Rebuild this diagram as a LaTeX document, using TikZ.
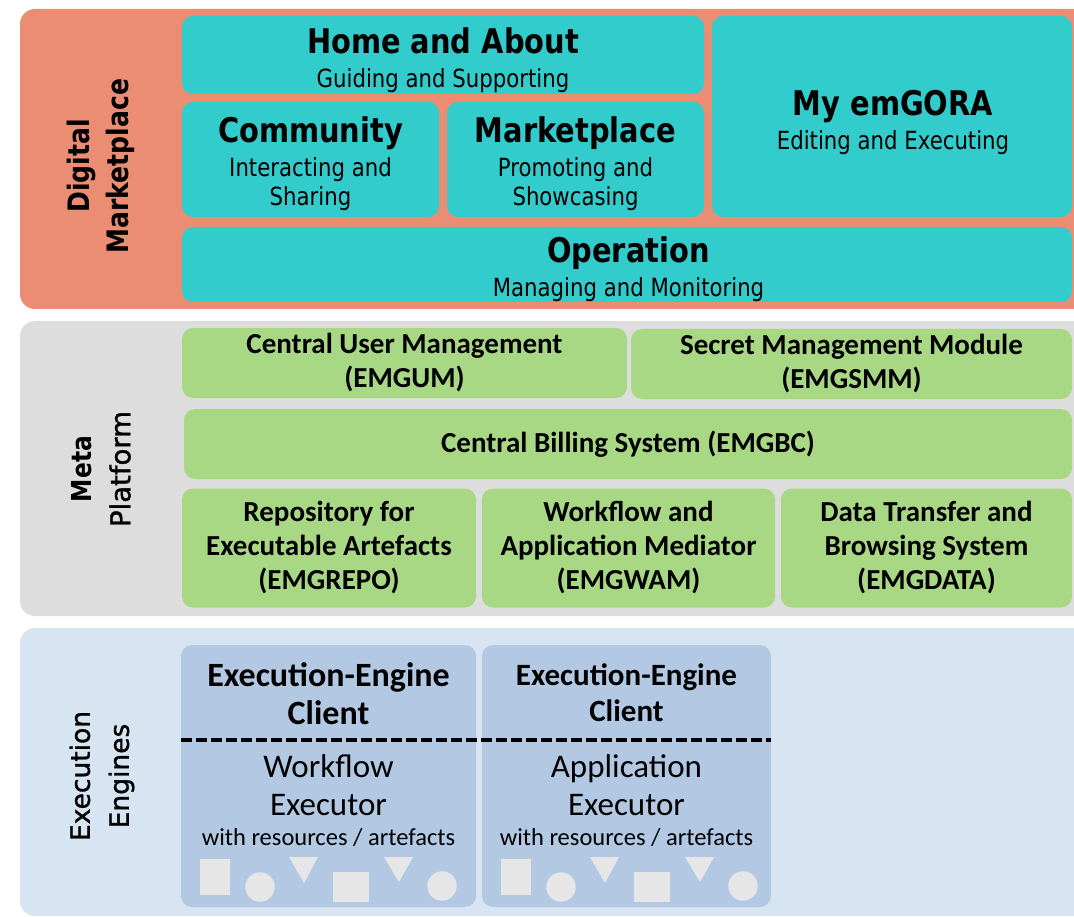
\documentclass[tikz,border=0pt]{standalone}
\usepackage{fontspec}
\newfontfamily\dmfont[FakeStretch=0.85]{DejaVu Sans}
\newfontfamily\dmplain[FakeBold=1.2]{DejaVu Sans}
\newfontfamily\mpfont{Carlito}

\definecolor{dmorange}{HTML}{EB8D73}
\definecolor{dmteal}{HTML}{33CCCC}
\definecolor{mpgray}{HTML}{DDDDDD}
\definecolor{mpgreen}{HTML}{A9D884}
\definecolor{eepanel}{HTML}{D7E4F1}
\definecolor{eeblue}{HTML}{B3C9E3}
\definecolor{eeshape}{HTML}{E6E6E6}

\newcommand\dmhead{\dmfont\bfseries\fontsize{34}{38}\selectfont}
\newcommand\dmsub{\dmfont\fontsize{25}{29}\selectfont}

\begin{document}
\begin{tikzpicture}[x=1pt, y=-1pt,
    panel/.style={rounded corners=15pt},
    module/.style={rounded corners=11pt, inner sep=0pt},
    dmbox/.style={module, fill=dmteal},
    mpbox/.style={module, fill=mpgreen, align=center,
      font=\mpfont\bfseries\fontsize{29}{34}\selectfont},
    eebox/.style={module, fill=eeblue},
    dmtext/.style={inner sep=0pt, align=center, font=\dmsub},
    sidelabel/.style={inner sep=0pt, align=center, rotate=90},
    artefact/.style={fill=eeshape},
    divider/.style={line width=3.5pt, dash pattern=on 11pt off 4pt}
  ]
  \useasboundingbox (0,0) rectangle (1074,917);
  \clip (0,0) rectangle (1074,917);

  % layers
  \fill[panel, dmorange] (20,9) rectangle (1100,309);
  \fill[panel, mpgray] (20,321) rectangle (1100,616);
  \fill[panel, eepanel] (20,628) rectangle (1100,916);

  \node[sidelabel, font=\dmfont\bfseries\fontsize{29.5}{39}\selectfont]
    (dmlabel) at (101,166) {Digital\\Marketplace};
  \node[sidelabel, font=\dmplain\fontsize{27.5}{39}\selectfont]
    (mplabel) at (101,469) {{\dmfont\bfseries Meta}\\Platform};
  \node[sidelabel, font=\dmplain\fontsize{26.5}{39}\selectfont]
    (eelabel) at (102,776) {Execution\\Engines};

  % digital marketplace
  \node[dmbox, minimum width=522pt, minimum height=78pt] (home) at (443,55) {};
  \node[dmbox, minimum width=257pt, minimum height=115pt] (community) at (310.5,159.5) {};
  \node[dmbox, minimum width=257pt, minimum height=115pt] (market) at (575.5,159.5) {};
  \node[dmbox, minimum width=360pt, minimum height=201pt] (myemgora) at (892,116.5) {};
  \node[dmbox, minimum width=890pt, minimum height=75pt] (operation) at (627,264.5) {};

  \node[dmtext] (hometext) at (443,60)
    {{\dmhead Home and About}\\[5pt]Guiding and Supporting};
  \node[dmtext] (communitytext) at (310.5,164)
    {{\dmhead Community}\\[5pt]Interacting and\\Sharing};
  \node[dmtext] (markettext) at (575.5,164)
    {{\dmhead Marketplace}\\[5pt]Promoting and\\Showcasing};
  \node[dmtext] (myemgoratext) at (893,122)
    {{\dmhead My emGORA}\\[5pt]Editing and Executing};
  \node[dmtext] (operationtext) at (628.5,269)
    {{\dmhead Operation}\\[5pt]Managing and Monitoring};

  % meta platform
  \node[mpbox, minimum width=445pt, minimum height=70pt] (emgum) at (404.5,363)
    {Central User Management\\(EMGUM)};
  \node[mpbox, minimum width=441pt, minimum height=70pt] (emgsmm) at (851.5,364)
    {Secret Management Module\\(EMGSMM)};
  \node[mpbox, minimum width=888pt, minimum height=70pt] (emgbc) at (628,444)
    {Central Billing System (EMGBC)};
  \node[mpbox, minimum width=294pt, minimum height=119pt] (emgrepo) at (329,548)
    {Repository for\\Executable Artefacts\\(EMGREPO)};
  \node[mpbox, minimum width=293pt, minimum height=119pt] (emgwam) at (628.5,548)
    {Workflow and\\Application Mediator\\(EMGWAM)};
  \node[mpbox, minimum width=291pt, minimum height=119pt] (emgdata) at (926.5,548)
    {Data Transfer and\\Browsing System\\(EMGDATA)};

  % execution engines
  \node[eebox, minimum width=295pt, minimum height=262pt] (workflow) at (328.5,776) {};
  \node[eebox, minimum width=289pt, minimum height=262pt] (application) at (626.5,776) {};

  \node[inner sep=0pt, align=center, font=\mpfont\bfseries\fontsize{34}{38}\selectfont]
    (wfclient) at (328.5,694) {Execution-Engine\\Client};
  \node[inner sep=0pt, align=center, font=\mpfont\bfseries\fontsize{31}{36}\selectfont]
    (apclient) at (626.5,693) {Execution-Engine\\Client};

  \coordinate (cut) at (0,740);
  \draw[divider] (workflow.west |- cut) -- (application.east |- cut);

  \node[inner sep=0pt, align=center, font=\mpfont\fontsize{33}{38}\selectfont]
    (wfexec) at (328.5,801)
    {Workflow\\Executor\\[-8pt]{\fontsize{24.5}{29}\selectfont with resources / artefacts}};
  \node[inner sep=0pt, align=center, font=\mpfont\fontsize{33}{38}\selectfont]
    (apexec) at (626.5,801)
    {Application\\Executor\\[-8pt]{\fontsize{24.5}{29}\selectfont with resources / artefacts}};

  \foreach \dx in {0,301} {
    \fill[artefact] (200+\dx,859) rectangle ++(30,36);
    \fill[artefact] (260+\dx,887) circle[radius=14.7];
    \fill[artefact] (289+\dx,857) -- (318+\dx,857) -- (304+\dx,883) -- cycle;
    \fill[artefact] (333+\dx,872) rectangle ++(36,30);
    \fill[artefact] (384+\dx,857) -- (413+\dx,857) -- (399+\dx,882) -- cycle;
    \fill[artefact] (442+\dx,886) circle[radius=14.7];
  }
\end{tikzpicture}
\end{document}
